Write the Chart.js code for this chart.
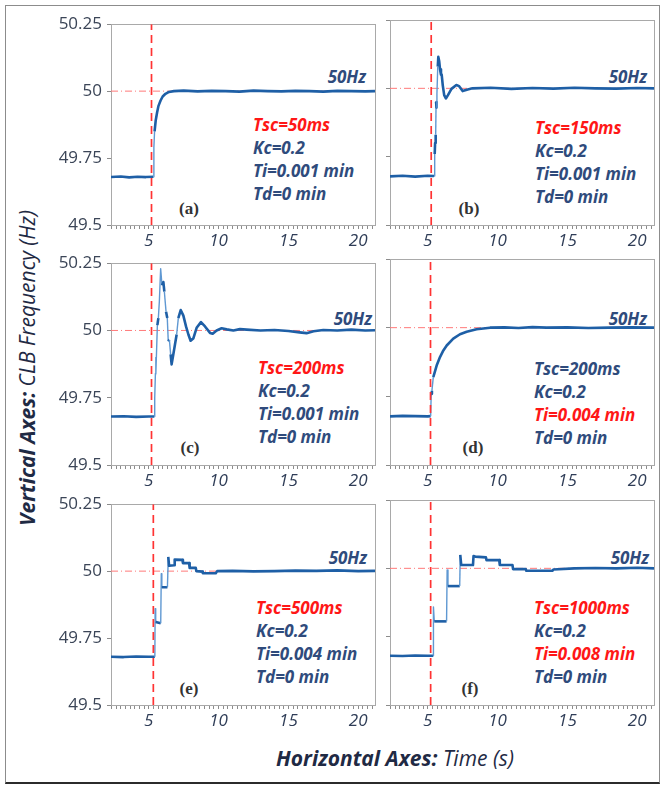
<!DOCTYPE html>
<html>
<head>
<meta charset="utf-8">
<script src="https://cdn.jsdelivr.net/npm/chart.js@4.4.0/dist/chart.umd.min.js"></script>
<style>
body{margin:0;background:#fff;width:662px;height:786px;overflow:hidden;position:relative;font-family:"Open Sans",sans-serif;}
#frame{position:absolute;left:5px;top:5px;width:653px;height:776px;border:1px solid #8c8c8c;border-bottom:2px solid #2b2b2b;}
canvas{position:absolute;}
.hz,.note{position:absolute;font-weight:bold;font-style:italic;font-size:17px;line-height:23px;color:#2f4b7c;white-space:nowrap;}
.red{color:#ff1717;}
.tag{position:absolute;font-family:"Liberation Serif",serif;font-weight:bold;font-size:17px;color:#333;transform:translate(-50%,-50%);}
.ttl{position:absolute;font-size:21px;color:#1f2a44;font-style:italic;white-space:nowrap;}
.ttl b{font-weight:bold;}
</style>
</head>
<body>
<div id="frame"></div>

<div class="ttl" style="left:27px;top:368px;transform:translate(-50%,-50%) rotate(-90deg);"><b>Vertical Axes:</b> CLB Frequency (Hz)</div>
<div class="ttl" style="left:395px;top:758px;transform:translate(-50%,-50%);"><b>Horizontal Axes:</b> Time (s)</div>

<div class="hz" style="right:296px;top:65px">50Hz</div>
<div class="hz" style="right:15px;top:65px">50Hz</div>
<div class="hz" style="right:290px;top:307px">50Hz</div>
<div class="hz" style="right:15px;top:307px">50Hz</div>
<div class="hz" style="right:295px;top:546px">50Hz</div>
<div class="hz" style="right:13px;top:546px">50Hz</div>

<div class="note" style="left:253px;top:113px"><span class="red">Tsc=50ms</span><br>Kc=0.2<br>Ti=0.001 min<br>Td=0 min</div>
<div class="note" style="left:535px;top:116px"><span class="red">Tsc=150ms</span><br>Kc=0.2<br>Ti=0.001 min<br>Td=0 min</div>
<div class="note" style="left:258px;top:356px"><span class="red">Tsc=200ms</span><br>Kc=0.2<br>Ti=0.001 min<br>Td=0 min</div>
<div class="note" style="left:534px;top:357px">Tsc=200ms<br>Kc=0.2<br><span class="red">Ti=0.004 min</span><br>Td=0 min</div>
<div class="note" style="left:256px;top:596px"><span class="red">Tsc=500ms</span><br>Kc=0.2<br>Ti=0.004 min<br>Td=0 min</div>
<div class="note" style="left:534px;top:596px"><span class="red">Tsc=1000ms</span><br>Kc=0.2<br><span class="red">Ti=0.008 min</span><br>Td=0 min</div>

<div class="tag" style="left:189px;top:209px">(a)</div>
<div class="tag" style="left:469px;top:209px">(b)</div>
<div class="tag" style="left:190px;top:448px">(c)</div>
<div class="tag" style="left:473px;top:448px">(d)</div>
<div class="tag" style="left:189px;top:689px">(e)</div>
<div class="tag" style="left:470px;top:689px">(f)</div>

<script>
// axis values
const xMin = 2.3, xMax = 21.2
const xTickLabels = [5, 10, 15, 20]
const yTickValues = [49.5, 49.75, 50, 50.25]
const nominal = 50
const faultTimes = [5.2, 5.25, 5.2, 5.2, 5.33, 5.21]

// (a) Tsc=50ms
const tA = [2.3, 3.0, 3.6, 4.2, 4.8, 5.34, 5.37, 5.42, 5.5, 5.6, 5.7, 5.85, 6.0, 6.2, 6.45, 6.8, 7.5, 8.5, 9.5, 10.5, 11.5, 12.5, 13.5, 14.5, 15.5, 16.5, 17.5, 18.5, 19.5, 20.5, 21.2]
const fA = [49.679, 49.681, 49.678, 49.68, 49.679, 49.68, 49.79, 49.85, 49.89, 49.92, 49.945, 49.965, 49.98, 49.99, 49.997, 50.0, 50.002, 49.999, 50.001, 50.0, 49.998, 50.002, 50.0, 49.999, 50.001, 50.0, 49.998, 50.001, 50.0, 49.999, 50.0]

// (b) Tsc=150ms
const tB = [2.3, 3.2, 4.1, 5.0, 5.45, 5.5, 5.53, 5.57, 5.6, 5.63, 5.66, 5.72, 5.76, 5.82, 5.88, 5.95, 6.0, 6.08, 6.18, 6.3, 6.45, 6.7, 7.05, 7.25, 7.5, 7.8, 8.2, 9.5, 11, 12.5, 14, 15.5, 17, 18.5, 20, 21.2]
const fB = [49.678, 49.68, 49.677, 49.68, 49.679, 49.76, 49.8, 49.83, 49.95, 49.93, 49.98, 50.08, 50.115, 50.1, 50.07, 50.05, 50.05, 50.01, 49.975, 49.963, 49.975, 49.998, 50.012, 50.008, 49.99, 49.995, 50.0, 50.002, 49.998, 50.001, 49.999, 50.002, 50.0, 49.999, 50.001, 50.0]

// (c) Tsc=200ms
const tC = [2.3, 3.2, 4.1, 5.0, 5.4, 5.43, 5.48, 5.5, 5.52, 5.56, 5.62, 5.69, 5.76, 5.855, 5.95, 6.05, 6.12, 6.24, 6.33, 6.4, 6.48, 6.57, 6.64, 6.76, 6.88, 7.0, 7.12, 7.29, 7.48, 7.67, 7.84, 8.0, 8.19, 8.43, 8.74, 9.03, 9.39, 9.58, 9.86, 10.22, 10.58, 11.06, 11.53, 12.01, 13, 14, 15, 15.8, 16.3, 16.8, 17.5, 18.5, 19.5, 20.5, 21.2]
const fC = [49.68, 49.681, 49.679, 49.68, 49.68, 49.75, 49.84, 49.9, 49.838, 49.92, 50.02, 50.046, 50.107, 50.23, 50.168, 50.18, 50.144, 50.07, 50.046, 49.96, 49.965, 49.911, 49.874, 49.911, 49.948, 49.985, 50.046, 50.076, 50.055, 50.015, 49.985, 49.962, 49.97, 50.01, 50.031, 50.015, 49.991, 49.988, 50.0, 50.008, 50.004, 50.0, 50.005, 50.003, 50.0, 50.002, 49.998, 49.993, 49.99, 49.997, 50.002, 50.0, 50.003, 50.0, 50.001]

// (d) Ti=0.004 min
const tD = [2.3, 3.2, 4.1, 5.0, 5.21, 5.25, 5.3, 5.4, 5.64, 5.88, 6.12, 6.36, 6.83, 7.31, 7.79, 8.5, 9.46, 10.5, 11.5, 12.5, 13.5, 15, 16.5, 18, 19.5, 21.2]
const fD = [49.677, 49.679, 49.678, 49.677, 49.678, 49.759, 49.77, 49.82, 49.862, 49.893, 49.917, 49.935, 49.96, 49.976, 49.985, 49.994, 50.0, 50.001, 49.999, 50.002, 50.0, 50.001, 49.999, 50.0, 50.001, 50.0]

// (e) Tsc=500ms
const tE = [2.3, 3.2, 4.1, 5.0, 5.44, 5.46, 5.5, 5.86, 5.9, 5.94, 6.34, 6.4, 6.46, 6.82, 6.86, 7.41, 7.45, 7.89, 7.93, 8.37, 8.41, 8.84, 8.88, 9.8, 9.9, 11, 12.5, 14, 15.5, 17, 18.5, 20, 21.2]
const fE = [49.68, 49.679, 49.681, 49.68, 49.68, 49.86, 49.81, 49.805, 49.99, 49.94, 49.94, 50.053, 50.02, 50.022, 50.043, 50.042, 50.03, 50.03, 50.012, 50.012, 50.0, 49.998, 49.992, 49.992, 50.0, 50.001, 49.999, 50.0, 50.002, 50.001, 50.003, 50.0, 50.001]

// (f) Tsc=1000ms
const tF = [2.3, 3.2, 4.1, 5.0, 5.39, 5.41, 5.47, 6.35, 6.39, 6.45, 7.29, 7.33, 7.4, 8.24, 8.28, 8.4, 9.17, 9.21, 10.12, 10.16, 11.07, 11.11, 12.02, 12.06, 13.93, 14.0, 15.5, 17, 18.5, 20, 21.2]
const fF = [49.68, 49.679, 49.681, 49.68, 49.68, 49.859, 49.806, 49.806, 49.994, 49.935, 49.935, 50.049, 50.012, 50.012, 50.045, 50.043, 50.04, 50.03, 50.03, 50.012, 50.012, 49.997, 49.997, 49.991, 49.991, 49.996, 50.0, 50.001, 50.0, 50.002, 50.0]

const series = [[tA, fA], [tB, fB], [tC, fC], [tD, fD], [tE, fE], [tF, fF]]

// layout of the 3x2 grid
const plotTops = [20, 259, 500]
const plotHeights = [205, 206, 205]

const steep = c => {
    const dx = Math.abs(c.p1.x - c.p0.x), dy = Math.abs(c.p1.y - c.p0.y)
    return dy > 12 && dy > 4 * dx
}

const boxPlugin = {
    id: 'box',
    beforeDatasetsDraw(chart) {
        const a = chart.chartArea, ctx = chart.ctx
        ctx.save()
        ctx.strokeStyle = '#a9a9a9'
        ctx.lineWidth = 1
        ctx.strokeRect(Math.round(a.left) + 0.5, Math.round(a.top) + 0.5, Math.round(a.right - a.left), Math.round(a.bottom - a.top))
        ctx.restore()
    }
}

series.forEach(([t, f], i) => {
    const col = i % 2, row = Math.floor(i / 2)
    const canvas = document.createElement('canvas')
    const w = col === 0 ? 340 : 280
    const h = 11 + plotHeights[row] + 30
    canvas.width = w
    canvas.height = h
    canvas.style.left = (col === 0 ? 40 : 380) + 'px'
    canvas.style.top = (plotTops[row] - 11) + 'px'
    document.body.appendChild(canvas)

    new Chart(canvas, {
        type: 'line',
        data: {
            datasets: [
                {
                    data: [{x: faultTimes[i], y: yTickValues[0]}, {x: faultTimes[i], y: yTickValues[3]}],
                    borderColor: '#ff3333',
                    borderWidth: 1.7,
                    borderDash: [8, 5],
                    pointRadius: 0,
                    order: 0
                },
                {
                    data: t.map((x, k) => ({x: x, y: f[k]})),
                    borderColor: '#1e5fa6',
                    borderWidth: 2.6,
                    pointRadius: 0,
                    tension: 0,
                    borderJoinStyle: 'round',
                    segment: {
                        borderColor: c => steep(c) ? '#5f98d2' : undefined,
                        borderWidth: c => steep(c) ? 1.4 : undefined
                    },
                    order: 1
                },
                {
                    data: [{x: xMin, y: nominal}, {x: xMax, y: nominal}],
                    borderColor: '#ff7a7a',
                    borderWidth: 1,
                    borderDash: [7, 3, 1, 3],
                    pointRadius: 0,
                    order: 2
                }
            ]
        },
        options: {
            responsive: false,
            animation: false,
            devicePixelRatio: 1,
            layout: {padding: {top: 11, right: col === 0 ? 5 : 6, left: 0, bottom: 0}},
            plugins: {legend: {display: false}, tooltip: {enabled: false}},
            scales: {
                x: {
                    type: 'linear',
                    min: xMin,
                    max: xMax,
                    afterBuildTicks: s => {
                        const ticks = []
                        for (let k = Math.ceil(xMin * 3); k <= Math.floor(xMax * 3); k++) ticks.push({value: k / 3})
                        s.ticks = ticks
                    },
                    afterFit: s => { s.height = 30 },
                    grid: {drawOnChartArea: false, tickLength: 4, color: '#8c8c8c'},
                    border: {display: false},
                    ticks: {
                        autoSkip: false,
                        maxRotation: 0,
                        padding: 2,
                        color: '#2f3d57',
                        font: {family: 'Open Sans', size: 17, style: 'italic'},
                        callback: v => {
                            const r = Math.round(v)
                            return Math.abs(v - r) < 1e-6 && xTickLabels.includes(r) ? String(r) : ''
                        }
                    }
                },
                y: {
                    min: yTickValues[0],
                    max: yTickValues[3],
                    afterBuildTicks: s => { s.ticks = yTickValues.map(v => ({value: v})) },
                    afterFit: s => { s.width = col === 0 ? 71 : 10 },
                    grid: {drawOnChartArea: false, tickLength: 4, color: '#8c8c8c'},
                    border: {display: false},
                    ticks: {
                        display: col === 0,
                        padding: 5,
                        color: '#3b4557',
                        font: {family: 'Open Sans', size: 17},
                        callback: v => String(Math.round(v * 100) / 100)
                    }
                }
            }
        },
        plugins: [boxPlugin]
    })
})
</script>
</body>
</html>
